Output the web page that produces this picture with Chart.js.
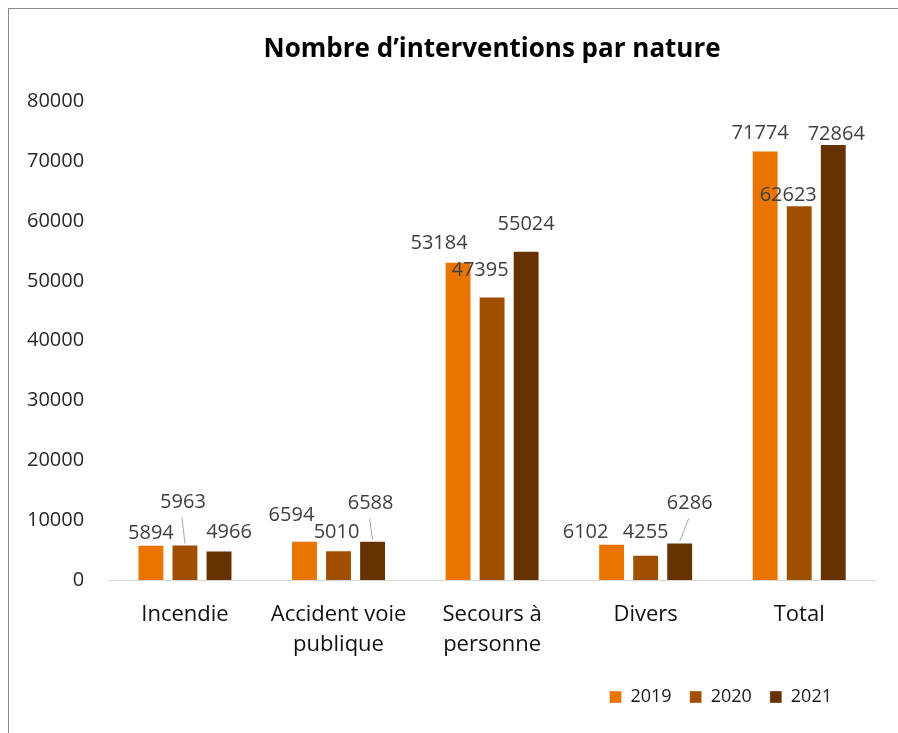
<!DOCTYPE html>
<html>
<head>
<meta charset="utf-8">
<script src="https://cdn.jsdelivr.net/npm/chart.js@4.4.1/dist/chart.umd.min.js"></script>
<style>
html, body { margin: 0; padding: 0; background: #fff; overflow: hidden; }
#frame { position: absolute; left: 8px; top: 8px; width: 1000px; height: 1000px; border: 1px solid #8a8a8a; }
#chart { position: absolute; left: -9px; top: 0; }
</style>
</head>
<body>
<div id="frame"><canvas id="chart" width="898" height="724"></canvas></div>
<script>
// data
var categories = ["Incendie", ["Accident voie", "publique"], ["Secours à", "personne"], "Divers", "Total"];
var years = ["2019", "2020", "2021"];
var values2019 = [5894, 6594, 53184, 6102, 71774];
var values2020 = [5963, 5010, 47395, 4255, 62623];
var values2021 = [4966, 6588, 55024, 6286, 72864];
var yTicks = [0, 10000, 20000, 30000, 40000, 50000, 60000, 70000, 80000];

var colors = ["#E97500", "#A04F00", "#663300"];
var FONT = "'Open Sans', Lato, sans-serif";

// label nudges (dx, dy) so labels sit like in the original, plus leader lines
var labelOffsets = [
    [[0, 0], [-13, -13], [-19, -6], [-26, 1], [-5, -5]],
    [[-2, -30], [-2, -6], [-12, -14], [0, -10], [-11, 2]],
    [[10, -6], [-2, -25], [0, -14], [10, -27], [3, 2]]
];
var leaderLines = [
    [false, false, false, false, false],
    [true, false, false, false, false],
    [false, true, false, true, false]
];
var legendShift = {x: -26, y: -10};

var valueLabels = {
    id: "valueLabels",
    afterLayout: function(chart) {
        //move legend to where the original has it
        var lg = chart.legend;
        lg.left += legendShift.x; lg.right += legendShift.x;
        lg.top += legendShift.y; lg.bottom += legendShift.y;
    },
    afterDatasetsDraw: function(chart) {
        var ctx = chart.ctx;
        ctx.save();
        ctx.font = "20px " + FONT;
        ctx.textAlign = "center";
        ctx.textBaseline = "middle";
        chart.data.datasets.forEach(function(ds, di) {
            var meta = chart.getDatasetMeta(di);
            meta.data.forEach(function(bar, i) {
                var off = labelOffsets[di][i];
                var x = bar.x + off[0];
                var y = bar.y - 12 + off[1];
                if (leaderLines[di][i]) {
                    ctx.strokeStyle = "#a6a6a6";
                    ctx.lineWidth = 1;
                    ctx.beginPath();
                    ctx.moveTo(x - 1, y + 15);
                    ctx.lineTo(bar.x, bar.y - 1);
                    ctx.stroke();
                }
                ctx.fillStyle = "#404040";
                ctx.fillText(String(ds.data[i]), x, y);
            });
        });
        ctx.restore();
    }
};

var datasets = [values2019, values2020, values2021].map(function(vals, i) {
    return {
        label: years[i],
        data: vals,
        backgroundColor: colors[i],
        borderColor: "rgba(255,255,255,0.35)",
        borderWidth: 1,
        categoryPercentage: 0.665,
        barPercentage: 0.79
    };
});

new Chart(document.getElementById("chart"), {
    type: "bar",
    data: {labels: categories, datasets: datasets},
    plugins: [valueLabels],
    options: {
        responsive: false,
        animation: false,
        layout: {padding: {left: 3, right: 22, top: 0, bottom: 7}},
        plugins: {
            tooltip: {enabled: false},
            title: {
                display: true,
                fullSize: false,
                text: "Nombre d\u2019interventions par nature",
                color: "#000",
                font: {family: FONT, size: 26, weight: "bold"},
                padding: {top: 25, bottom: 36}
            },
            legend: {
                position: "bottom",
                align: "end",
                fullSize: false,
                labels: {
                    boxWidth: 12,
                    boxHeight: 12,
                    padding: 18,
                    color: "#1a1a1a",
                    font: {family: FONT, size: 18}
                }
            }
        },
        scales: {
            x: {
                grid: {display: false, drawTicks: false},
                border: {display: true, color: "#d9d9d9", width: 1},
                ticks: {
                    color: "#111",
                    font: {family: FONT, size: 22, lineHeight: 1.36},
                    padding: 20,
                    maxRotation: 0,
                    autoSkip: false
                }
            },
            y: {
                min: yTicks[0],
                max: yTicks[yTicks.length - 1],
                afterBuildTicks: function(scale) {
                    scale.ticks = yTicks.map(function(v) { return {value: v}; });
                },
                grid: {display: false, drawTicks: false},
                border: {display: false},
                ticks: {
                    color: "#262626",
                    font: {family: FONT, size: 20},
                    padding: 24,
                    callback: function(v) { return String(v); }
                }
            }
        }
    }
});
</script>
</body>
</html>
